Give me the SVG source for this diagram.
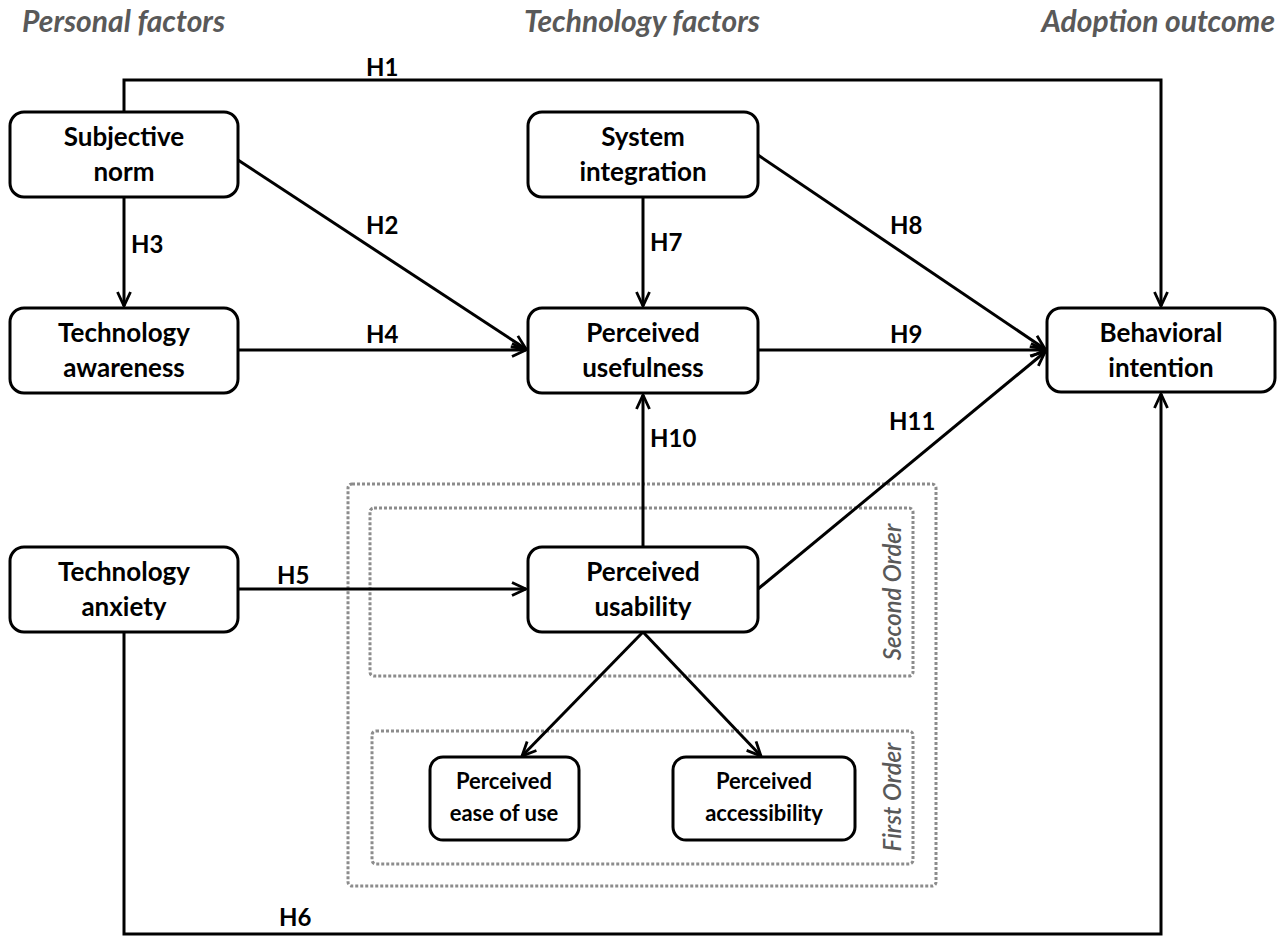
<svg xmlns="http://www.w3.org/2000/svg" width="1284" height="936" viewBox="0 0 1284 936">
<style>
.node rect{fill:#fff;stroke:#000;stroke-width:3}
.node text{font-family:Lato,"Liberation Sans",sans-serif;font-weight:bold;font-size:26px;fill:#000;text-anchor:middle}
.node.small text{font-size:22px}
.title{font-family:Lato,"Liberation Sans",sans-serif;font-weight:bold;font-style:italic;font-size:30px;fill:#595959}
.lab{font-family:Lato,"Liberation Sans",sans-serif;font-weight:bold;font-size:24px;fill:#000}
.edge{fill:none;stroke:#000;stroke-width:3}
.dot{fill:none;stroke:#8c8c8c;stroke-width:3;stroke-dasharray:3 2}
.ord{font-family:Lato,"Liberation Sans",sans-serif;font-style:italic;font-weight:600;font-size:24px;fill:#595959;text-anchor:middle}
</style>
<defs>
<marker id="arr" viewBox="0 0 16 16" refX="15" refY="8" markerWidth="16" markerHeight="16" markerUnits="userSpaceOnUse" orient="auto">
<path d="M1,1.5 L15,8 L1,14.5" fill="none" stroke="#000" stroke-width="2.8"/>
</marker>
</defs>
<rect width="1284" height="936" fill="#fff"/>
<g id="titles">
<text class="title" x="22" y="32">Personal factors</text>
<text class="title" x="524" y="32">Technology factors</text>
<text class="title" x="1275" y="32" text-anchor="end">Adoption outcome</text>
</g>
<g id="groups">
<rect class="dot" x="348" y="484" width="588" height="402" rx="4"/>
<rect class="dot" x="370" y="508" width="543" height="168" rx="4"/>
<rect class="dot" x="372" y="731" width="541" height="133" rx="4"/>
<text class="ord" transform="translate(901,592) rotate(-90)">Second Order</text>
<text class="ord" transform="translate(901,797) rotate(-90)">First Order</text>
</g>
<g id="connectors">
<path class="edge" d="M124,112 V80 H1161 V306" marker-end="url(#arr)"/>
<path class="edge" d="M238,160 L526,349" marker-end="url(#arr)"/>
<path class="edge" d="M124,197 V306" marker-end="url(#arr)"/>
<path class="edge" d="M238,350 H526" marker-end="url(#arr)"/>
<path class="edge" d="M238,589 H526" marker-end="url(#arr)"/>
<path class="edge" d="M124,632 V934 H1161 V394" marker-end="url(#arr)"/>
<path class="edge" d="M643,197 V306" marker-end="url(#arr)"/>
<path class="edge" d="M758,155 L1045,349" marker-end="url(#arr)"/>
<path class="edge" d="M758,350 H1045" marker-end="url(#arr)"/>
<path class="edge" d="M643,547 V395" marker-end="url(#arr)"/>
<path class="edge" d="M758,589 L1045,352" marker-end="url(#arr)"/>
<path class="edge" d="M643,632 L522,756" marker-end="url(#arr)"/>
<path class="edge" d="M643,632 L761,756" marker-end="url(#arr)"/>
<text class="lab" x="366" y="76">H1</text>
<text class="lab" x="366" y="234">H2</text>
<text class="lab" x="131" y="253">H3</text>
<text class="lab" x="366" y="343">H4</text>
<text class="lab" x="277" y="584">H5</text>
<text class="lab" x="279" y="926">H6</text>
<text class="lab" x="650" y="251">H7</text>
<text class="lab" x="890" y="234">H8</text>
<text class="lab" x="890" y="343">H9</text>
<text class="lab" x="650" y="447">H10</text>
<text class="lab" x="889" y="430">H11</text>
</g>
<g id="subjective-norm" class="node">
<rect x="10" y="112" width="228" height="85" rx="14"/>
<text x="124" y="146">Subjective</text><text x="124" y="181">norm</text>
</g>
<g id="technology-awareness" class="node">
<rect x="10" y="308" width="228" height="85" rx="14"/>
<text x="124" y="342">Technology</text><text x="124" y="377">awareness</text>
</g>
<g id="technology-anxiety" class="node">
<rect x="10" y="547" width="228" height="85" rx="14"/>
<text x="124" y="581">Technology</text><text x="124" y="616">anxiety</text>
</g>
<g id="system-integration" class="node">
<rect x="528" y="112" width="230" height="85" rx="14"/>
<text x="643" y="146">System</text><text x="643" y="181">integration</text>
</g>
<g id="perceived-usefulness" class="node">
<rect x="528" y="308" width="230" height="85" rx="14"/>
<text x="643" y="342">Perceived</text><text x="643" y="377">usefulness</text>
</g>
<g id="perceived-usability" class="node">
<rect x="528" y="547" width="230" height="85" rx="14"/>
<text x="643" y="581">Perceived</text><text x="643" y="616">usability</text>
</g>
<g id="behavioral-intention" class="node">
<rect x="1047" y="308" width="228" height="84" rx="14"/>
<text x="1161" y="342">Behavioral</text><text x="1161" y="377">intention</text>
</g>
<g id="perceived-ease-of-use" class="node small">
<rect x="430" y="757" width="149" height="83" rx="13"/>
<text x="504" y="789">Perceived</text><text x="504" y="821">ease of use</text>
</g>
<g id="perceived-accessibility" class="node small">
<rect x="673" y="757" width="182" height="83" rx="13"/>
<text x="764" y="789">Perceived</text><text x="764" y="821">accessibility</text>
</g>
</svg>
